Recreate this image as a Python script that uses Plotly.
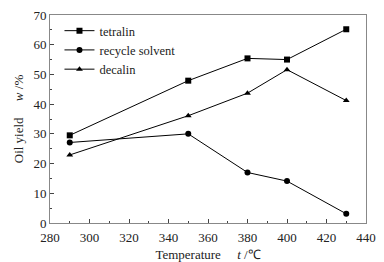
import plotly.graph_objects as go

temps = [290, 350, 380, 400, 430]
tetralin = [29.5, 47.9, 55.4, 55.0, 65.2]
recycle = [27.1, 30.0, 17.0, 14.1, 3.1]
decalin = [22.9, 36.1, 43.7, 51.6, 41.2]

series = [
    ("tetralin", tetralin, "square"),
    ("recycle solvent", recycle, "circle"),
    ("decalin", decalin, "triangle-up"),
]

fig = go.Figure()
for name, vals, sym in series:
    fig.add_trace(go.Scatter(
        x=temps, y=vals, name=name, mode="lines+markers",
        line=dict(color="black", width=1),
        marker=dict(symbol=sym, size=6, color="black"),
    ))

font = "Liberation Serif, Times New Roman, serif"
fig.update_layout(
    width=384, height=262,
    margin=dict(l=50, r=18, t=15, b=39),
    paper_bgcolor="white", plot_bgcolor="white",
    font=dict(family=font, size=13, color="#222"),
    showlegend=True,
    legend=dict(x=0.03, y=0.995, xanchor="left", yanchor="top",
                bgcolor="rgba(0,0,0,0)", font=dict(size=12.5, family=font),
                tracegroupgap=0, itemwidth=30),
    xaxis=dict(range=[280, 440], dtick=20, ticks="inside", ticklen=4,
               minor=dict(dtick=10, ticks="inside", ticklen=2, tickcolor="#444"),
               showline=True, linecolor="#888", linewidth=1, mirror=True,
               showgrid=False, zeroline=False, tickcolor="#444",
               tickfont=dict(size=13, family=font), ticklabelstandoff=2,
               ticklabeloverflow="allow", automargin=False,
               title=dict(text="Temperature&nbsp;&nbsp;&nbsp;&nbsp;&nbsp;<i>t</i> /℃",
                          font=dict(size=13, family=font), standoff=6)),
    yaxis=dict(range=[0, 70], dtick=10, ticks="inside", ticklen=4,
               minor=dict(dtick=5, ticks="inside", ticklen=2, tickcolor="#444"),
               showline=True, linecolor="#888", linewidth=1, mirror=True,
               showgrid=False, zeroline=False, tickcolor="#444",
               tickfont=dict(size=13, family=font), automargin=False,
               title=dict(text="Oil yield&nbsp;&nbsp;&nbsp;&nbsp;&nbsp;<i>w</i> /%",
                          font=dict(size=13, family=font), standoff=6)),
)
fig.write_html("out.html", config={"displayModeBar": False},
               post_script="document.body.style.margin='0';")
